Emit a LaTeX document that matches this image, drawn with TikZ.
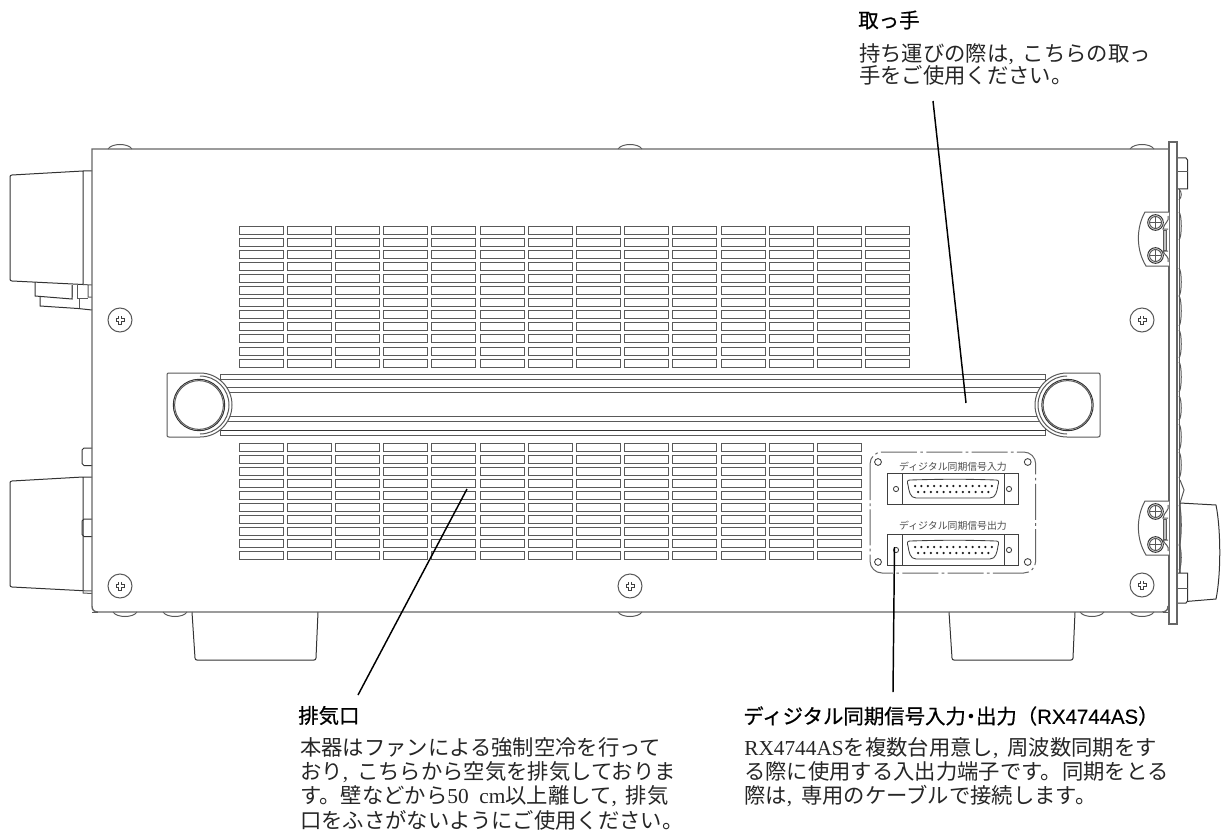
\documentclass[tikz,border=0pt]{standalone}
\usepackage{fontspec}
\setmainfont{Noto Sans CJK JP}
\newfontfamily\lserif{Liberation Serif}
\newfontfamily\lsans[FakeBold=0.25]{Liberation Sans}
\newfontfamily\hdfont[FakeBold=0.7]{Noto Sans CJK JP}
\newcommand{\Lt}[1]{{\lserif #1}}
\newcommand{\Cm}{{\lserif ,}\hspace{0.42em}}
\newcommand{\screwmark}[2]{%
  \draw[thinline,fill=white] (#1,#2) circle[radius=12];
  \draw[thinline,black!75] (#1-1.6,#2-4) rectangle (#1+1.6,#2+4);
  \draw[thinline,black!75,fill=white] (#1-4,#2-1.6) rectangle (#1+4,#2+1.6);
  \fill[white] (#1-1.2,#2-3.6) rectangle (#1+1.2,#2+3.6);
}
\newcommand{\domeT}[1]{\draw[thinline] (#1-12,149) .. controls (#1-8,143) and (#1+8,143) .. (#1+12,149);}
\newcommand{\domeB}[1]{\draw[thinline] (#1-12,612) .. controls (#1-8,618) and (#1+8,618) .. (#1+12,612);}
\newcommand{\clipmark}[1]{%
  \draw[thinline,fill=white] (1169,#1) -- (1145,#1) .. controls (1136,#1+16) and (1136,#1+38) .. (1146,#1+54) -- (1169,#1+54);
  \draw[thinline,fill=black!25] (1166.5,#1+18) -- (1163,#1+18) -- (1163,#1+38) -- (1166.5,#1+38) -- cycle;
  \draw[thinline] (1168,#1+4) .. controls (1170,#1+9) and (1164,#1+11) .. (1163,#1+17) -- (1168,#1+17);
  \draw[thinline] (1168,#1+50) .. controls (1170,#1+45) and (1164,#1+43) .. (1163,#1+39) -- (1168,#1+39);
  \foreach \sy in {10.5,43.5}{
    \draw[darkline,fill=white] (1155.5,#1+\sy) circle[radius=7.8];
    \draw[thinline] (1155.5,#1+\sy) circle[radius=6];
    \draw[thinline] (1149.5,#1+\sy) -- (1161.5,#1+\sy) (1155.5,#1+\sy-6) -- (1155.5,#1+\sy+6);
  }
}
\newcommand{\subd}[2]{% top y, label
  \draw[plate] (887,#1) rectangle (1018,#1+31);
  \draw[plate] (902,#1) -- (902,#1+31) (1004,#1) -- (1004,#1+31);
  \draw[plate] (896,#1+16) circle[radius=2.6] (1009,#1+16) circle[radius=2.6];
  \draw[plate] (910,#1+7) .. controls (945,#1+6) and (965,#1+6) .. (996,#1+7)
     .. controls (999,#1+7) and (999,#1+9) .. (998,#1+12)
     .. controls (997,#1+18) and (996,#1+25) .. (990,#1+25)
     -- (916,#1+25) .. controls (910,#1+25) and (909,#1+18) .. (908,#1+12)
     .. controls (907,#1+9) and (907,#1+7) .. (910,#1+7) -- cycle;
  \foreach \pn in {0,...,12}{\fill[black!90] (915+\pn*6.4,#1+13) circle[radius=1.25];}
  \foreach \pn in {0,...,11}{\fill[black!90] (918+\pn*6.4,#1+19) circle[radius=1.25];}
}
\tikzset{
  thinline/.style={draw=black!65,line width=0.75pt},
  bodyline/.style={draw=black!60,line width=1.05pt},
  slotbox/.style={draw=black!65,line width=0.75pt},
  darkline/.style={draw=black!80,line width=0.75pt},
  plate/.style={draw=black!75,line width=0.65pt},
  leader/.style={draw=black,line width=1.1pt},
  heading/.style={inner sep=0pt,anchor=west,font=\fontsize{15.3}{18}\selectfont\hdfont},
  bodytext/.style={inner sep=0pt,anchor=north west,align=left,font=\fontsize{16}{#1}\selectfont,text=black!85},
  smalllabel/.style={inner sep=0pt,text=black!70,font=\fontsize{7.4}{9}\selectfont},
}
\begin{document}
\begin{tikzpicture}[x=0.75pt,y=-0.75pt]
\useasboundingbox (0,0) rectangle (1224,831);
\fill[white] (0,0) rectangle (1224,831);

% left connector housings
\draw[darkline] (92,171) -- (83,171) -- (12,175) .. controls (10.5,175) and (10,176) .. (10,177) -- (10,279)
  .. controls (10,280) and (10.5,281) .. (12,281) -- (83,284.5) -- (83,171);
\draw[darkline] (35,282) -- (35,296) -- (72,299) -- (72,285);
\draw[darkline] (40,296.5) -- (40,306) -- (78,308.5) -- (92,310);
\draw[thinline] (72,285) -- (72,297) (77,285) -- (77,299) (79,298) -- (79,308);
\draw[thinline] (88,285) -- (88,297) -- (92,297) (83,284.5) -- (92,285);
\draw[thinline] (77,298) -- (88,298);
\draw[darkline] (92,477) -- (83,477) -- (12,481) .. controls (10.5,481) and (10,482) .. (10,483) -- (10,585)
  .. controls (10,586) and (10.5,587) .. (12,587) -- (83,590.7) -- (83,477);
\draw[thinline] (83,590.7) -- (83,593) -- (92,593.5) (83,590.7) -- (92,591);
\draw[darkline] (92,448) -- (84,448) -- (82,450) -- (82,463.5) -- (84,465.5) -- (92,465.5);
\draw[darkline] (92,519) -- (84,519) -- (82,521) -- (82,534.5) -- (84,536.5) -- (92,536.5);

% feet
\draw[darkline] (192,612) -- (195,658) .. controls (195,659.5) and (196,660) .. (197,660) -- (314,660)
  .. controls (315,660) and (316,659.5) .. (316,658) -- (318,612);
\draw[darkline] (949,612) -- (952,658) .. controls (952,659.5) and (953,660) .. (954,660) -- (1071,660)
  .. controls (1072,660) and (1073,659.5) .. (1073,658) -- (1075,612);

% screw domes
\foreach \dx in {120,630,1142}{\domeT{\dx}}
\foreach \dx in {125,175,630,1092,1142}{\domeB{\dx}}

% right side controls
\draw[darkline,fill=white] (1180,503) -- (1216,505) .. controls (1221,530) and (1221,575) .. (1216,599) -- (1180,602) -- cycle;
\draw[thinline] (1180,480) -- (1184,490) -- (1180,503);
\foreach \ya/\yb in {189/200,212/240,268/296,296/326,330/358,362/392,396/420,424/450,452/478,505/545,545/570}{
  \draw[thinline] (1179,\ya) .. controls (1182,\ya+3) and (1182,\yb-3) .. (1179,\yb);
}
\draw[thinline] (1179,189) -- (1179,573);
\draw[darkline,fill=white] (1177,158) -- (1186,158) -- (1187.5,160) -- (1187.5,189) -- (1177,189);
\draw[thinline] (1177,172) -- (1187.5,172);
\draw[darkline,fill=white] (1177,573) -- (1187.5,573) -- (1187.5,601) -- (1186,603) -- (1177,603);
\draw[thinline] (1177,588) -- (1187.5,588);

% chassis
\draw[bodyline] (1169,149) -- (92,149) -- (92,606) .. controls (92,610) and (94,612) .. (98,612) -- (1162,612)
  .. controls (1166,612) and (1168,610) .. (1168,606);
\draw[thinline] (92,612) -- (98,612) (1163,612) -- (1169,612);
\draw[bodyline,fill=white] (1169,142) rectangle (1177,624);

% fastening screws
\screwmark{120}{320}\screwmark{1142}{320}\screwmark{120}{586}\screwmark{630}{586}\screwmark{1142}{585}
\clipmark{212}\clipmark{501}

% vent slots
\foreach \cx in {0,...,13}{\foreach \ry in {0,...,11}{
  \draw[slotbox] (239+\cx*48.2,226+\ry*12.1) rectangle ++(44,8);}}
\foreach \cx in {0,...,12}{\foreach \ry in {0,...,9}{
  \draw[slotbox] (239+\cx*48.2,443+\ry*12) rectangle ++(44,8);}}

% handle bar
\draw[thinline,fill=white] (220.5,374.3) rectangle (1045.7,435.3);
\foreach \ly in {379,387.7,392.7,416.5,421.5}{\draw[thinline] (220.5,\ly) -- (1045.7,\ly);}
\draw[darkline] (220.5,430.3) -- (1045.7,430.3);
% handle caps
\draw[thinline,fill=white] (167,375) .. controls (167,373.5) and (167.5,373) .. (169,373) -- (200,373)
  arc[start angle=-90,end angle=90,radius=32] -- (169,437) .. controls (167.5,437) and (167,436.5) .. (167,435) -- cycle;
\draw[thinline] (200,376) arc[start angle=-90,end angle=90,radius=29];
\draw[darkline] (199,405) circle[radius=25.7];
\draw[thinline] (199,405) circle[radius=24.4];
\draw[thinline,fill=white] (1100,375) .. controls (1100,373.5) and (1099.5,373) .. (1098,373) -- (1067,373)
  arc[start angle=270,end angle=90,radius=32] -- (1098,437) .. controls (1099.5,437) and (1100,436.5) .. (1100,435) -- cycle;
\draw[thinline] (1067,376) arc[start angle=270,end angle=90,radius=29];
\draw[darkline] (1067.5,405) circle[radius=25.7];
\draw[thinline] (1067.5,405) circle[radius=24.4];

% sync panel
\draw[draw=black!60,line width=0.75pt,dash pattern=on 27pt off 2.5pt on 2pt off 2.5pt,rounded corners=9pt] (870,452) rectangle (1035.7,573);
\foreach \hx/\hy in {878/462,1027.7/462,878/562,1027.7/562}{\draw[plate] (\hx,\hy) circle[radius=3.4];}
\node[smalllabel] (syncinlabel) at (953,467) {ディジタル同期信号入力};
\node[smalllabel] (syncoutlabel) at (953,526) {ディジタル同期信号出力};
\subd{473}{}
\subd{534}{}

% texts
\node[heading] (handletitle) at (858,20) {取っ手};
\node[bodytext=16.5] (handlebody) at (859,43.5) {持ち運びの際は\Cm こちらの取っ\\手をご使用ください。};
\node[heading] (venttitle) at (298,715.5) {排気口};
\node[bodytext=18.2] (ventbody) at (300,737) {本器はファンによる強制空冷を行って\\おり\Cm こちらから空気を排気しておりま\\す。壁などから\Lt{50\ \ cm}以上離して\Cm 排気\\口をふさがないようにご使用ください。};
\node[heading] (synctitle) at (743,716) {ディジタル同期信号入力\hspace{-.25em}・\hspace{-.25em}出力（{\lsans RX4744AS}）};
\node[bodytext=18.2] (syncbody) at (744,737) {\Lt{RX4744AS}を複数台用意し\Cm 周波数同期をす\\る際に使用する入出力端子です。同期をとる\\際は\Cm 専用のケーブルで接続します。};

% leader lines
\coordinate (handletarget) at (966,403);
\coordinate (handlestart) at (933,101);
\coordinate (venttarget) at (467,489);
\coordinate (ventstart) at (358,695);
\coordinate (synctarget) at (894.5,547);
\coordinate (syncstart) at (893,692);
\draw[leader] (handlestart) -- (handletarget);
\draw[leader] (ventstart) -- (venttarget);
\draw[leader] (syncstart) -- (synctarget);
\end{tikzpicture}
\end{document}
